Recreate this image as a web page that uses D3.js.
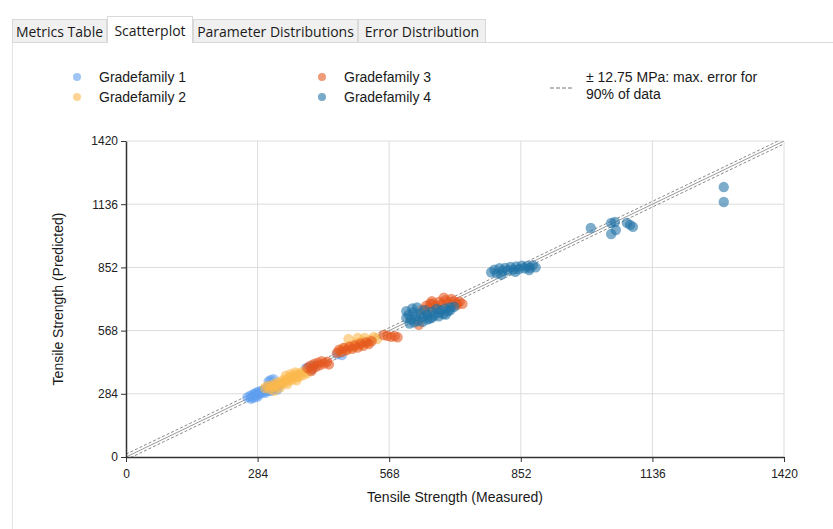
<!DOCTYPE html>
<html>
<head>
<meta charset="utf-8">
<script src="https://cdn.jsdelivr.net/npm/d3@7"></script>
<style>
  body { margin: 0; background: #ffffff; }
  svg { display: block; }
</style>
</head>
<body>
<svg id="chart" width="833" height="529"></svg>
<script>
// tabs across the top
const tabNames = ["Metrics Table", "Scatterplot", "Parameter Distributions", "Error Distribution"];
const activeTab = "Scatterplot";

const seriesNames = ["Gradefamily 1", "Gradefamily 2", "Gradefamily 3", "Gradefamily 4"];
const seriesColors = ["#5f9ff0", "#fbb84c", "#e5561e", "#1f72a6"];

const tickValues = [0, 284, 568, 852, 1136, 1420];
const errorBand = 12.75;
const errorLabel = ["\u00b1 12.75 MPa: max. error for", "90% of data"];

// [measured, predicted]
const gf1 = [
  [262,268],[268,275],[272,270],[275,281],[278,286],[280,276],[283,290],[286,282],
  [288,295],[291,287],[294,298],[296,292],[299,303],[302,296],[305,309],[308,300],
  [311,306],[315,312],[319,305],[323,316],[328,320],[333,327],[270,262],[276,266],
  [284,272],[300,288],[312,296],[326,303],[308,340],[312,345],[318,350],
  [388,398],[394,404],[400,392],[405,410],[456,462],[462,470],[466,458]
];
const gf2 = [
  [300,310],[305,318],[310,305],[314,322],[318,315],[322,330],[326,320],[330,336],
  [334,328],[338,344],[342,335],[346,350],[350,342],[354,358],[358,348],[362,364],
  [366,356],[370,372],[374,362],[378,380],[382,368],[386,384],[390,376],[345,365],
  [355,372],[365,380],[332,312],[348,328],[368,345],[320,298],
  [462,478],[470,490],[478,484],[485,500],[492,494],[498,512],[505,502],[510,520],
  [515,535],[520,512],[528,526],[535,540],[542,530],[480,530],[500,535]
];
const gf3 = [
  [392,400],[398,410],[402,396],[406,418],[410,405],[414,424],[418,412],[422,430],
  [428,420],[434,428],[438,416],[400,386],
  [455,468],[460,482],[466,472],[470,490],[476,480],[482,496],[488,486],[494,502],
  [500,492],[506,510],[512,500],[518,516],[524,508],[530,520],
  [556,548],[564,545],[572,540],[580,543],[586,538],
  [632,594],[640,662],[648,680],[655,670],[656,688],[662,690],[670,680],[676,698],
  [682,688],[690,705],[696,694],[702,710],[708,700],[714,690],[720,698],[726,688],
  [660,700],[686,716],[714,683]
];
const gf4 = [
  [605,625],[610,640],[615,618],[620,650],[625,632],[630,612],[635,645],[640,628],
  [645,660],[650,640],[655,622],[660,652],[665,635],[670,665],[675,648],[680,660],
  [685,642],[690,668],[695,655],[700,672],[612,600],[622,605],[640,608],[650,618],
  [660,625],[675,632],[690,640],[605,655],[618,668],[628,672],[700,660],[708,675],
  [788,830],[795,842],[800,825],[806,848],[812,836],[818,850],[824,838],[830,854],
  [836,842],[842,856],[848,844],[854,860],[860,848],[866,858],[872,850],[878,862],
  [884,852],[810,820],[840,832],[870,840],
  [1003,1029],[1047,1052],[1055,1056],[1057,1020],[1047,1002],[1081,1052],
  [1088,1043],[1094,1034],[1290,1213],[1290,1146]
];
const allSeries = [gf1, gf2, gf3, gf4];

const svg = d3.select("#chart");
const fontUI = "'Open Sans', 'Noto Sans', sans-serif";
const fontChart = "'Liberation Sans', Arial, sans-serif";

// tab strip
const tabG = svg.append("g");
tabG.append("line")
  .attr("x1", 12).attr("x2", 833).attr("y1", 42.5).attr("y2", 42.5)
  .attr("stroke", "#d9d9d9");
tabG.append("line")
  .attr("x1", 12.5).attr("x2", 12.5).attr("y1", 42).attr("y2", 529)
  .attr("stroke", "#e3e3e3");
const tabWidths = [95, 86, 165, 128];
let tx = 12;
tabNames.forEach(function (name, i) {
  const active = name === activeTab;
  const w = tabWidths[i];
  tabG.append("rect")
    .attr("x", tx + 0.5).attr("y", active ? 16.5 : 19.5)
    .attr("width", w - 1).attr("height", active ? 26 : 23)
    .attr("fill", active ? "#ffffff" : "#f0f0f0")
    .attr("stroke", "#d9d9d9");
  if (active) {
    tabG.append("line")
      .attr("x1", tx + 1).attr("x2", tx + w - 1).attr("y1", 42.5).attr("y2", 42.5)
      .attr("stroke", "#ffffff");
  }
  tabG.append("text")
    .attr("x", tx + w / 2).attr("y", active ? 36 : 37)
    .attr("text-anchor", "middle")
    .attr("font-family", fontUI).attr("font-size", 14)
    .attr("fill", "#1a1a1a")
    .text(name);
  tx += w;
});

// plot area
const margin = { left: 126, top: 141, right: 49, bottom: 72 };
const width = 833 - margin.left - margin.right;
const height = 529 - margin.top - margin.bottom;

const x = d3.scaleLinear().domain([0, 1420]).range([0, width]);
const y = d3.scaleLinear().domain([0, 1420]).range([height, 0]);

const g = svg.append("g")
  .attr("transform", "translate(" + margin.left + "," + margin.top + ")");

svg.append("defs").append("clipPath").attr("id", "plotclip")
  .append("rect").attr("width", width).attr("height", height);

// grid
g.append("g").selectAll("line.vg")
  .data(tickValues.slice(1))
  .enter().append("line")
  .attr("x1", function (d) { return x(d); }).attr("x2", function (d) { return x(d); })
  .attr("y1", 0).attr("y2", height)
  .attr("stroke", "#dcdcdc");
g.append("g").selectAll("line.hg")
  .data(tickValues.slice(1))
  .enter().append("line")
  .attr("x1", 0).attr("x2", width)
  .attr("y1", function (d) { return y(d); }).attr("y2", function (d) { return y(d); })
  .attr("stroke", "#dcdcdc");

// y = x and error band
const diag = g.append("g").attr("clip-path", "url(#plotclip)");
[-errorBand, 0, errorBand].forEach(function (off) {
  diag.append("line")
    .attr("x1", x(0)).attr("y1", y(0 + off))
    .attr("x2", x(1420)).attr("y2", y(1420 + off))
    .attr("stroke", off === 0 ? "#9a9a9a" : "#8a8a8a")
    .attr("stroke-width", 1)
    .attr("stroke-dasharray", off === 0 ? null : "3,2");
});

// points
allSeries.forEach(function (data, i) {
  g.append("g").selectAll("circle")
    .data(data)
    .enter().append("circle")
    .attr("cx", function (d) { return x(d[0]); })
    .attr("cy", function (d) { return y(d[1]); })
    .attr("r", 5.2)
    .attr("fill", seriesColors[i])
    .attr("fill-opacity", 0.58);
});

// axes
const fmt = d3.format("d");
const xAxis = g.append("g")
  .attr("transform", "translate(0," + height + ")")
  .call(d3.axisBottom(x).tickValues(tickValues).tickFormat(fmt).tickSize(5).tickSizeOuter(0));
const yAxis = g.append("g")
  .call(d3.axisLeft(y).tickValues(tickValues).tickFormat(fmt).tickSize(5).tickSizeOuter(0));
[xAxis, yAxis].forEach(function (a) {
  a.select(".domain").attr("stroke", "#333").attr("stroke-width", 1.5);
  a.selectAll(".tick line").attr("stroke", "#333");
  a.selectAll("text")
    .attr("font-family", fontChart).attr("font-size", 12).attr("fill", "#222");
});
xAxis.selectAll("text").attr("dy", "1.1em");

// axis titles
svg.append("text")
  .attr("x", margin.left + width / 2).attr("y", 502)
  .attr("text-anchor", "middle")
  .attr("font-family", fontChart).attr("font-size", 14).attr("fill", "#1a1a1a")
  .text("Tensile Strength (Measured)");
svg.append("text")
  .attr("transform", "translate(63," + (margin.top + height / 2) + ") rotate(-90)")
  .attr("text-anchor", "middle")
  .attr("font-family", fontChart).attr("font-size", 14).attr("fill", "#1a1a1a")
  .text("Tensile Strength (Predicted)");

// legend
const legendPos = [[77, 77], [77, 97], [322, 77], [322, 97]];
seriesNames.forEach(function (name, i) {
  svg.append("circle")
    .attr("cx", legendPos[i][0]).attr("cy", legendPos[i][1])
    .attr("r", 4).attr("fill", seriesColors[i]).attr("fill-opacity", 0.6);
  svg.append("text")
    .attr("x", legendPos[i][0] + 22).attr("y", legendPos[i][1] + 5)
    .attr("font-family", fontChart).attr("font-size", 14).attr("fill", "#1a1a1a")
    .text(name);
});
svg.append("line")
  .attr("x1", 550).attr("x2", 573).attr("y1", 88).attr("y2", 88)
  .attr("stroke", "#777").attr("stroke-dasharray", "4,2");
errorLabel.forEach(function (t, i) {
  svg.append("text")
    .attr("x", 586).attr("y", 82 + i * 17)
    .attr("font-family", fontChart).attr("font-size", 14).attr("fill", "#1a1a1a")
    .text(t);
});
</script>
</body>
</html>
